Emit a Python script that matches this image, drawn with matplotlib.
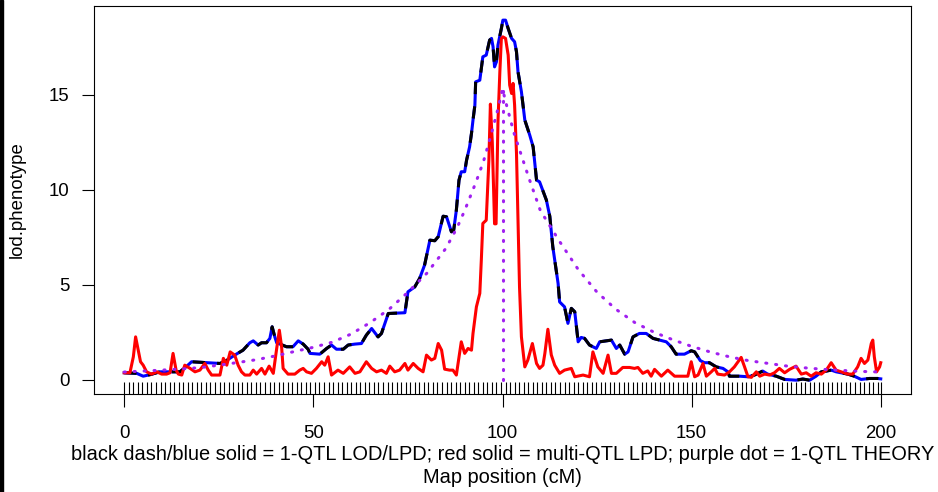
import matplotlib
matplotlib.use('Agg')
import matplotlib.pyplot as plt
from matplotlib.patches import Rectangle

# single-QTL LOD/LPD profile (cM, LOD)
lod_pos = [0, 3.3, 5, 6.8, 9.4, 14.7, 16.5, 17.8, 21.8, 25.3, 27, 29.2, 31.4, 33.2, 34.1,
           35.4, 36.3, 37.6, 38.5, 39.1, 39.8, 40.3, 42.9, 44.6, 46, 47.3, 48.6, 49.1, 51.7,
           53.5, 54.8, 56.1, 57.9, 59.2, 61, 62.7, 64, 65.4, 67.1, 68, 69.8, 74.2, 75, 76.8,
           78.1, 79.4, 80.8, 82.1, 83, 84.3, 85.2, 86.5, 87.1, 87.8, 88.5, 89.1, 90, 90.5,
           91.3, 91.8, 92.2, 92.7, 92.9, 94, 94.8, 95.7, 96.6, 97.1, 97.5, 97.9, 98.4, 98.8,
           99.7, 100.1, 100.8, 101.5, 102.4, 103.2, 103.7, 104.1, 105, 105.9, 107.2, 108.1,
           109, 109.8, 111.6, 112.5, 113.3, 114.7, 115.1, 116.4, 117.3, 118.2, 119.1, 120,
           120.8, 121.7, 123, 124.8, 125.7, 128.8, 130.1, 131, 132.3, 133.2, 134.5, 136.2,
           138, 139.8, 141.5, 143.3, 144.6, 145.9, 148.1, 149.9, 150.8, 152.3, 153.4, 154.7,
           156.5, 158.3, 159.6, 160, 162.7, 164.9, 166.6, 168.8, 170.1, 172.4, 174.6, 177.6,
           179.4, 181.2, 182.9, 184.3, 185.6, 186.9, 188.2, 191.3, 193, 194.8, 197, 199.2, 200]
lod_val = [0.36, 0.33, 0.18, 0.26, 0.41, 0.41, 0.7, 0.94, 0.89, 0.85, 1.0, 1.29, 1.55, 1.94, 2.04,
           1.82, 1.94, 1.94, 2.17, 2.78, 2.25, 1.94, 1.73, 1.73, 2.04, 1.87, 1.6, 1.38, 1.34,
           1.64, 1.82, 1.6, 1.6, 1.82, 1.87, 1.9, 2.34, 2.69, 2.25, 2.43, 3.48, 3.52, 4.62, 4.88,
           5.33, 6.03, 7.34, 7.31, 7.52, 8.6, 8.57, 7.78, 7.87, 8.92, 10.5, 10.94, 10.94, 11.55,
           12.25, 12.96, 13.66, 14.45, 15.67, 15.76, 16.99, 17.08, 17.87, 17.96, 17.52, 16.46, 16.73, 17.61,
           18.48, 18.92, 18.92, 18.48, 17.96, 17.78, 17.25, 16.2, 15.15, 13.66, 12.87, 12.25,
           10.5, 10.41, 9.45, 8.6, 6.99, 5.06, 4.09, 3.83, 2.96, 3.75, 3.57, 1.99,
           2.22, 2.17, 1.82, 1.64, 1.99, 2.08, 1.64, 1.82, 1.34, 1.46, 2.25, 2.43,
           2.43, 2.17, 2.08, 1.99, 1.73, 1.34, 1.34, 1.52, 1.46, 1.0, 0.89, 0.89,
           0.67, 0.59, 0.41, 0.18, 0.18, 0.15, 0.24, 0.45, 0.29, 0.18, 0.01, -0.03,
           0.03, -0.03, 0.18, 0.41, 0.45, 0.5, 0.41, 0.29, 0.18, 0.01, 0.06, 0.06, 0.04]

# multi-QTL LPD profile
multi_pos = [0, 1.5, 2.4, 3, 3.7, 4.3, 5, 5.9, 7.2, 8.6, 9.9, 11.2, 12.1, 12.9, 13.7, 14.3,
             15.2, 16, 17.4, 18.7, 20, 21.3, 22.2, 23.1, 25.3, 26.2, 27.1, 28, 29.2, 30.1,
             31, 31.9, 33.2, 34.1, 35, 36.3, 37.2, 38.3, 39.4, 40.3, 41, 41.6, 42, 43.3,
             45.1, 46.4, 47.3, 48.2, 49.5, 50.8, 52.2, 53, 53.9, 54.8, 56.5, 57.9, 59.6, 61,
             62.3, 64, 65.4, 66.7, 68, 69.3, 70.2, 71.5, 72.8, 74.2, 75, 76.4, 77.7, 79,
             79.9, 81.2, 82.1, 83, 83.9, 84.7, 86, 86.9, 87.8, 89.1, 90, 90.9, 91.8, 92.2,
             93.1, 94, 94.4, 94.8, 95.7, 96.4, 96.8, 97.3, 97.9, 98.3, 98.8, 99.3, 99.7,
             100.1, 100.8, 101.5, 101.9, 102.4, 102.8, 103.2, 103.7, 104.1, 104.5, 105,
             105.9, 106.7, 107.9, 109, 109.8, 110.7, 111.2, 112, 112.9, 113.8, 115.1, 116.4,
             118.2, 119.1, 121.3, 123, 123.9, 125.2, 126.6, 127.9, 128.8, 130.1, 131.8, 133.6,
             134.9, 135.8, 137.1, 138.4, 139.3, 140.2, 142, 143.7, 145.5, 149, 149.9, 150.8,
             151.7, 153, 153.9, 155.2, 156.1, 156.9, 158.7, 160, 161.3, 163.1, 164, 164.9,
             165.8, 167.1, 168, 169.3, 170.6, 171.9, 173.2, 174.6, 175.9, 177.6, 179, 180.3,
             181.6, 182.9, 184.3, 185.6, 186.9, 188.2, 189.5, 191.3, 192.6, 193.9, 194.8,
             195.7, 196.6, 197.5, 197.9, 198.3, 198.9, 199.7, 200]
multi_val = [0.36, 0.36, 1.2, 2.25, 1.55, 0.94, 0.76, 0.41, 0.29, 0.41, 0.29, 0.29, 0.36, 1.38, 0.5, 0.29,
             0.24, 0.76, 0.59, 0.41, 0.5, 0.85, 0.5, 0.24, 0.24, 1.12, 0.76, 1.46, 1.29, 0.76,
             0.41, 0.24, 0.24, 0.5, 0.29, 0.59, 0.29, 0.71, 0.33, 1.64, 2.6, 1.73, 0.59, 0.29,
             0.29, 0.5, 0.59, 0.41, 0.33, 0.59, 0.94, 0.76, 1.2, 0.24, 0.5, 0.33, 0.67, 0.33,
             0.41, 0.94, 0.59, 0.41, 0.5, 0.33, 0.71, 0.41, 0.5, 0.85, 0.5, 0.85, 0.59, 0.41,
             1.29, 1.03, 1.12, 1.9, 1.55, 0.55, 0.5, 0.5, 0.24, 1.99, 1.38, 1.64, 1.55, 2.43,
             3.83, 4.54, 6.29, 8.22, 8.39, 11.55, 14.5, 12.5, 8.2, 8.2, 13.57, 16.2, 17.96,
             18.04, 17.96, 17.08, 15.5, 15.06, 15.59, 14.45, 11.9, 8.39, 4.88, 2.25,
             0.67, 1.03, 1.9, 0.85, 0.59, 0.76, 1.38, 2.65, 1.3, 0.76, 0.33, 0.5,
             0.59, 0.15, 0.24, 0.15, 1.46, 0.67, 0.33, 1.29, 0.33, 0.33, 0.64, 0.64,
             0.59, 0.64, 0.33, 0.46, 0.18, 0.54, 0.18, 0.5, 0.18, 0.18, 0.94, 0.15,
             0.24, 0.85, 0.18, 0.41, 0.59, 0.29, 0.24, 0.41, 0.67, 1.17, 0.67, 0.15,
             0.12, 0.41, 0.18, 0.29, 0.24, 0.36, 0.59, 0.36, 0.54, 0.71, 0.29, 0.36,
             0.18, 0.36, 0.29, 0.5, 0.89, 0.5, 0.41, 0.29, 0.29, 0.67, 1.12,
             0.85, 1.03, 1.9, 2.08, 1.2, 0.41, 0.67, 0.89]

# single-QTL theoretical LOD curve
theory_pos = [0, 5, 10, 15, 20, 25, 30, 35, 40, 45, 50, 55, 60, 65, 70, 75, 80, 85, 88, 90,
              93, 95, 97, 99, 100, 101, 103, 105, 107, 110, 115, 120, 125, 130, 135, 140,
              145, 150, 155, 160, 165, 170, 175, 180, 185, 190, 195, 200]
theory_val = [0.40, 0.45, 0.50, 0.56, 0.63, 0.76, 0.90, 1.05, 1.25, 1.48, 1.70, 1.97, 2.4, 3.0,
              3.7, 4.6, 5.6, 6.9, 8.0, 8.9, 10.4, 11.5, 12.9, 14.4, 15.3, 14.5, 13.0, 11.8,
              10.6, 8.9, 7.3, 5.8, 4.6, 3.7, 3.0, 2.5, 2.1, 1.75, 1.45, 1.2, 1.0, 0.86, 0.72,
              0.62, 0.54, 0.48, 0.43, 0.40]
qtl_pos = 100

# marker map (cM)
markers = [0, 1.2, 2.4, 3.6, 4.8, 6.0, 7.2, 8.4, 9.6, 10.8, 12.0, 13.2, 14.4, 15.6, 16.8, 18.0,
           19.2, 20.4, 21.6, 22.8, 24.0, 25.2, 26.4, 27.6, 28.8, 30.0, 31.2, 32.4, 33.6, 34.8,
           36.0, 37.2, 38.4, 39.6, 40.8, 42.0, 43.2, 44.4, 45.6, 46.8, 48.0, 49.2, 50.4, 51.6,
           52.8, 54.0, 55.2, 56.4, 57.6, 58.8, 60.0, 61.2, 62.4, 63.6, 64.8, 66.0, 67.2, 68.4,
           69.6, 70.8, 72.0, 73.2, 74.4, 75.6, 76.8, 78.0, 79.2, 80.4, 81.6, 82.8, 84.0, 85.2,
           86.4, 87.6, 88.8, 90.0, 91.2, 92.4, 93.6, 94.8, 96.0, 97.2, 98.4, 99.6, 100.8, 102.0,
           103.2, 104.4, 105.6, 106.8, 108.0, 109.2, 110.4, 111.6, 112.8, 114.0, 115.2, 116.4,
           117.6, 118.8, 120.0, 121.2, 122.4, 123.6, 124.8, 126.0, 127.2, 128.4, 129.6, 130.8,
           132.0, 133.2, 134.4, 135.6, 136.8, 138.0, 139.2, 140.4, 141.6, 142.8, 144.0, 145.2,
           146.4, 147.6, 148.8, 150.0, 151.2, 152.4, 153.6, 154.8, 156.0, 157.2, 158.4, 159.6,
           160.8, 162.0, 163.2, 164.4, 165.6, 166.8, 168.0, 169.2, 170.4, 171.6, 172.8, 174.0,
           175.2, 176.4, 177.6, 178.8, 180.0, 181.2, 182.4, 183.6, 184.8, 186.0, 187.2, 188.4,
           189.6, 190.8, 192.0, 193.2, 194.4, 195.6, 196.8, 198.0, 199.2, 200]

xlab = ("black dash/blue solid = 1-QTL LOD/LPD; red solid = multi-QTL LPD; "
        "purple dot = 1-QTL THEORY")

plt.rcParams['font.family'] = ['Liberation Sans', 'DejaVu Sans']
plt.rcParams['font.size'] = 13.4

W, H = 938, 492
fig = plt.figure(figsize=(W / 100, H / 100), dpi=100)
ax = fig.add_axes([94 / W, 1 - 394 / H, (911 - 94) / W, (394 - 5.7) / H])

lw = 2.2
purple = '#A020F0'
dots = (0, (0.35, 2.9))
ax.plot(lod_pos, lod_val, color='blue', lw=lw)
ax.plot(lod_pos, lod_val, color='black', lw=lw, linestyle=(0, (4, 4)))
ax.plot(multi_pos, multi_val, color='red', lw=lw)
ax.plot(theory_pos, theory_val, color=purple, lw=lw, linestyle=dots,
        dash_capstyle='round')
ax.plot([qtl_pos, qtl_pos], [0, max(theory_val)], color=purple, lw=lw,
        linestyle=dots, dash_capstyle='round')

# marker rug along the bottom
ax.vlines(markers, 0, 0.03, transform=ax.get_xaxis_transform(), color='black', lw=0.8)

ax.set_xlim(-8, 208)
ax.set_ylim(-0.757, 19.68)
ax.set_xticks([0, 50, 100, 150, 200])
ax.set_yticks([0, 5, 10, 15])
ax.tick_params(axis='x', length=9, width=0.8, pad=13)
ax.tick_params(axis='y', length=9, width=0.8, pad=8.6)
for s in ax.spines.values():
    s.set_linewidth(0.8)

fig.text(502.5 / W, 1 - 460 / H, xlab, ha='center', va='baseline', fontsize=14.4)
fig.text(502.5 / W, 1 - 483 / H, 'Map position (cM)', ha='center', va='baseline',
         fontsize=14.4)
fig.text(17 / W, 1 - 200 / H, 'lod.phenotype', rotation=90, ha='center', va='center')

fig.patches.append(Rectangle((0, 0), 3 / W, 1, transform=fig.transFigure,
                             color='black'))

fig.savefig('out.png', dpi=100)
